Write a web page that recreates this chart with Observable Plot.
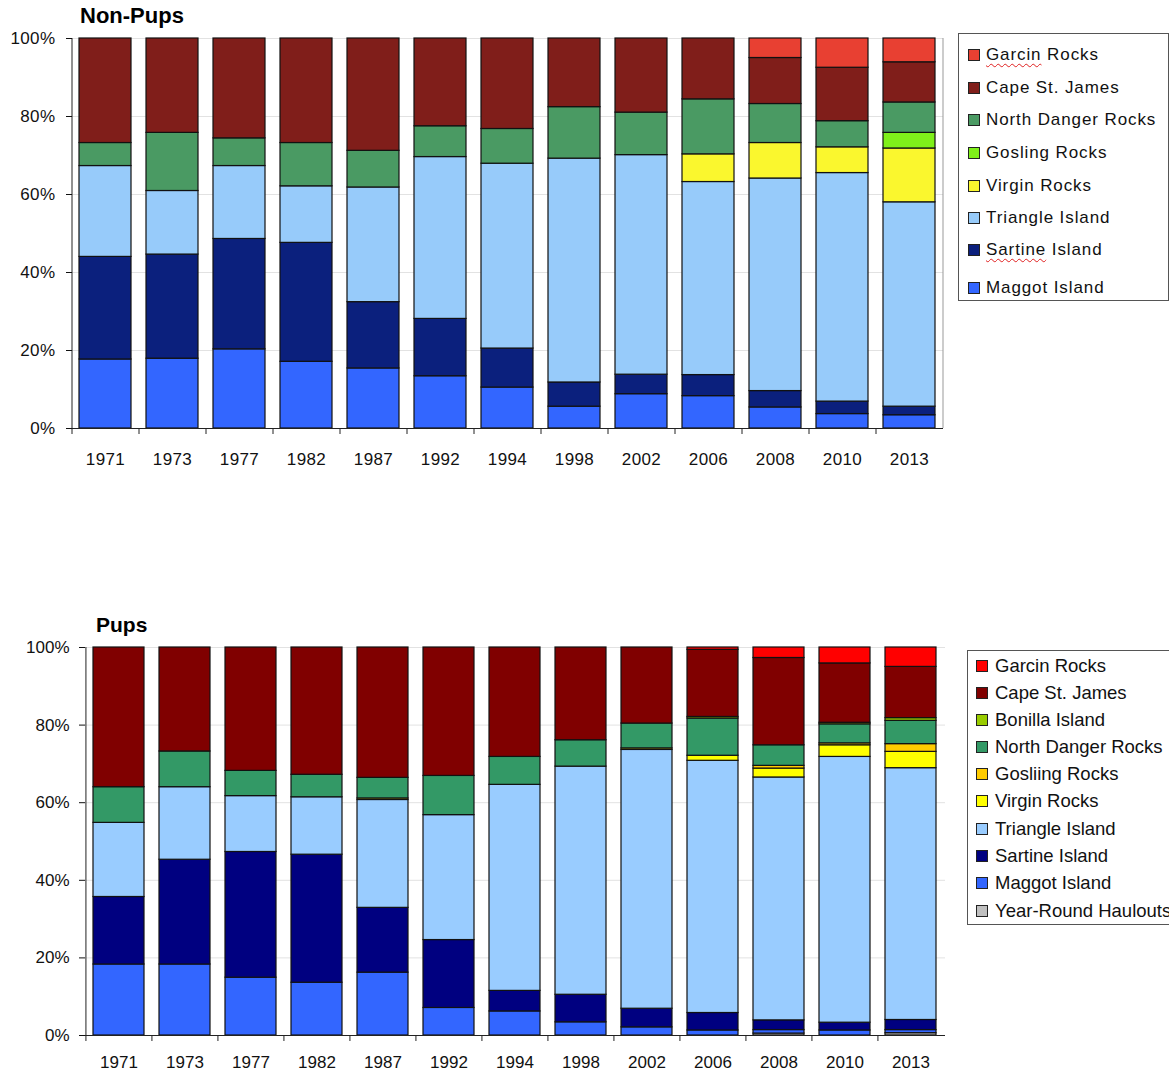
<!DOCTYPE html>
<html>
<head>
<meta charset="utf-8">
<script src="https://cdn.jsdelivr.net/npm/d3@7"></script>
<script src="https://cdn.jsdelivr.net/npm/@observablehq/plot@0.6"></script>
<style>
  html, body { margin: 0; padding: 0; background: #fff; }
  body { width: 1169px; height: 1076px; position: relative; overflow: hidden; font-family: "Liberation Sans", Arial, sans-serif; }
  .title { position: absolute; font-weight: bold; color: #000; line-height: 1; }
  .chart { position: absolute; }
  .legend { position: absolute; border: 1px solid #555; background: #fff; box-sizing: border-box; }
  .item { position: absolute; display: flex; align-items: center; white-space: nowrap; color: #111; }
  .sw { width: 10px; height: 10px; border: 1px solid #222; flex: none; }
  .spell { text-decoration: underline wavy #e02020; text-decoration-thickness: 1px; text-underline-offset: 3px; }
</style>
</head>
<body>
<div class="title" style="left:80px; top:5px; font-size:22px;">Non-Pups</div>
<div id="top" class="chart" style="left:0; top:28px;"></div>
<div id="legTop" class="legend" style="left:958px; top:33px; width:211px; height:268px;"></div>

<div class="title" style="left:96px; top:614px; font-size:21px;">Pups</div>
<div id="bot" class="chart" style="left:0; top:637px;"></div>
<div id="legBot" class="legend" style="left:967px; top:650px; width:215px; height:275px;"></div>

<script>
// ---------- data ----------
const years = ["1971","1973","1977","1982","1987","1992","1994","1998","2002","2006","2008","2010","2013"];

// Non-Pups (percent of total), bottom to top
const npSites  = ["Maggot Island","Sartine Island","Triangle Island","Virgin Rocks","Gosling Rocks","North Danger Rocks","Cape St. James","Garcin Rocks"];
const npColors = ["#3366ff","#0b207d","#97cbfa","#faf72e","#7ff01a","#4a9a63","#801e1a","#e84032"];
const npMaggot   = [17.7,17.9,20.3,17.1,15.4,13.4,10.5, 5.6, 8.8, 8.3, 5.4, 3.7, 3.4];
const npSartine  = [26.3,26.7,28.3,30.5,17.0,14.7,10.0, 6.2, 5.0, 5.4, 4.2, 3.2, 2.2];
const npTriangle = [23.3,16.3,18.7,14.5,29.4,41.5,47.4,57.4,56.3,49.5,54.5,58.6,52.4];
const npVirgin   = [0,0,0,0,0,0,0,0,0, 7.1, 9.1, 6.6,13.8];
const npGosling  = [0,0,0,0,0,0,0,0,0, 0, 0, 0, 4.0];
const npNDR      = [ 5.9,14.9, 7.1,11.1, 9.4, 7.9, 8.9,13.2,10.9,14.1,10.0, 6.7, 7.8];
const npCape     = [26.8,24.2,25.6,26.8,28.8,22.5,23.2,17.6,19.0,15.6,11.8,13.7,10.3];
const npGarcin   = [0,0,0,0,0,0,0,0,0, 0, 5.0, 7.5, 6.1];
const npSeries = [npMaggot,npSartine,npTriangle,npVirgin,npGosling,npNDR,npCape,npGarcin];
const npLegend = ["Garcin Rocks","Cape St. James","North Danger Rocks","Gosling Rocks","Virgin Rocks","Triangle Island","Sartine Island","Maggot Island"];

// Pups (percent of total), bottom to top
const pSites  = ["Year-Round Haulouts","Maggot Island","Sartine Island","Triangle Island","Virgin Rocks","Gosliing Rocks","North Danger Rocks","Bonilla Island","Cape St. James","Garcin Rocks"];
const pColors = ["#c0c0c0","#3366ff","#000080","#99ccff","#ffff00","#ffcc00","#339966","#99cc00","#800000","#ff0000"];
const pYearRound = [0,0,0,0,0,0,0,0,0,0,0.5,0,0.6];
const pMaggot    = [18.3,18.3,14.9,13.6,16.2, 7.1, 6.2, 3.4, 2.1, 1.3, 0.9, 1.3, 0.8];
const pSartine   = [17.4,27.0,32.4,33.0,16.7,17.5, 5.3, 7.1, 4.8, 4.5, 2.5, 2.0, 2.6];
const pTriangle  = [19.1,18.7,14.4,14.8,27.8,32.2,53.1,58.8,66.7,65.0,62.6,68.5,64.9];
const pVirgin    = [0,0,0,0,0.4,0,0,0,0.4,1.3,2.3,3.0,4.2];
const pGosling   = [0,0,0,0,0,0,0,0,0,0,0.7,0.5,2.0];
const pNDR       = [ 9.2, 9.2, 6.5, 5.8, 5.3,10.1, 7.2, 6.8, 6.4, 9.6, 5.3, 4.9, 6.0];
const pBonilla   = [0,0,0,0,0,0,0,0,0,0.4,0,0.4,0.7];
const pCape      = [36.0,26.8,31.8,32.8,33.6,33.1,28.2,23.9,19.6,17.3,22.5,15.3,13.2];
const pGarcin    = [0,0,0,0,0,0,0,0,0,0.6,2.7,4.1,5.0];
const pSeries = [pYearRound,pMaggot,pSartine,pTriangle,pVirgin,pGosling,pNDR,pBonilla,pCape,pGarcin];
const pLegend = ["Garcin Rocks","Cape St. James","Bonilla Island","North Danger Rocks","Gosliing Rocks","Virgin Rocks","Triangle Island","Sartine Island","Maggot Island","Year-Round Haulouts"];

const yTicks = [0,20,40,60,80,100];

function toRows(sites, series) {
  const rows = [];
  sites.forEach((s, i) => years.forEach((y, j) => {
    if (series[i][j] > 0) rows.push({year: y, site: s, value: series[i][j]});
  }));
  return rows;
}

function makeChart(o) {
  const step = (o.width - o.ml - o.mr) / years.length;
  return Plot.plot({
    width: o.width, height: o.height,
    marginLeft: o.ml, marginRight: o.mr, marginTop: o.mt, marginBottom: o.mb,
    style: {fontFamily: "'Liberation Sans', Arial, sans-serif", fontSize: "17px", color: "#111", background: "white", letterSpacing: o.ls},
    x: {domain: years, paddingInner: 0.22, paddingOuter: 0.11, axis: null},
    y: {domain: [0, 100], axis: null},
    color: {domain: o.sites, range: o.colors},
    marks: [
      Plot.gridY(yTicks, {stroke: "#e2e2e2", strokeOpacity: 1}),
      o.rightBorder ? Plot.ruleX([years[years.length - 1]], {dx: step / 2, stroke: "#999"}) : null,
      Plot.barY(toRows(o.sites, o.series), Plot.stackY({
        x: "year", y: "value", fill: "site", order: o.sites,
        stroke: "#111", strokeWidth: 1.2
      })),
      Plot.ruleY([0], {stroke: "#222"}),
      Plot.ruleX([years[0]], {dx: -step / 2, stroke: "#222"}),
      Plot.axisY(yTicks, {label: null, tickSize: 6, tickPadding: o.yPad, tickFormat: d => d + "%", fontSize: 17}),
      Plot.axisX({label: null, tickSize: 6, tickFormat: () => "", dx: -step / 2, stroke: "#222"}),
      Plot.axisX({label: null, tickSize: 0, tickPadding: o.xPad, fontSize: 17})
    ]
  });
}

document.getElementById("top").append(makeChart({
  width: 950, height: 445, ml: 72, mr: 7, mt: 10, mb: 45, xPad: 24, yPad: 11, ls: "0.4px",
  sites: npSites, colors: npColors, series: npSeries, rightBorder: true
}));
document.getElementById("bot").append(makeChart({
  width: 952, height: 439, ml: 85, mr: 7, mt: 10, mb: 41, xPad: 20, yPad: 10, ls: "0px",
  sites: pSites, colors: pColors, series: pSeries, rightBorder: false
}));

function makeLegend(el, names, sites, colors, ys, fontSize, swLeft, gap, ls, spellNames) {
  names.forEach((n, i) => {
    const d = document.createElement("div");
    d.className = "item";
    d.style.left = swLeft + "px";
    d.style.top = (ys[i] - fontSize * 0.6) + "px";
    d.style.fontSize = fontSize + "px";
    d.style.letterSpacing = ls;
    d.style.lineHeight = (fontSize * 1.2) + "px";
    const sw = document.createElement("span");
    sw.className = "sw";
    sw.style.marginRight = gap + "px";
    sw.style.background = colors[sites.indexOf(n)];
    d.append(sw);
    const t = document.createElement("span");
    const word = spellNames.find(w => n.startsWith(w));
    if (word) {
      const u = document.createElement("span");
      u.className = "spell"; u.textContent = word;
      t.append(u, document.createTextNode(n.slice(word.length)));
    } else t.textContent = n;
    d.append(t);
    el.append(d);
  });
}
makeLegend(document.getElementById("legTop"), npLegend, npSites, npColors,
  [21, 54, 86, 119, 152, 184, 216, 254], 17, 9, 6, "0.9px", ["Garcin", "Sartine"]);
makeLegend(document.getElementById("legBot"), pLegend, pSites, pColors,
  [15, 42, 69, 96, 123, 150, 178, 205, 232, 260], 18.5, 8, 7, "0px", []);
</script>
</body>
</html>
